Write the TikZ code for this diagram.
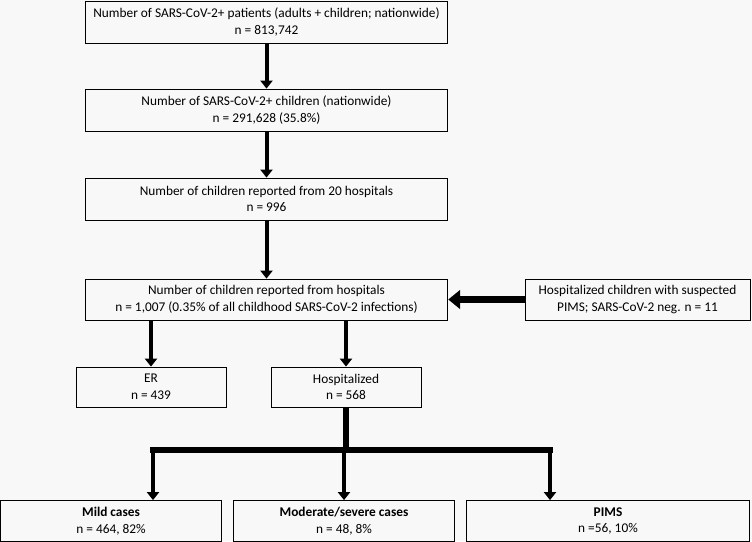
\documentclass[tikz,border=0pt]{standalone}
\usepackage{fontspec}
\setmainfont{Carlito}
\usetikzlibrary{arrows.meta}
\definecolor{paper}{RGB}{248,248,248}
\begin{document}
\begin{tikzpicture}[x=0.75pt,y=-0.75pt,
    box/.style={draw,line width=0.6pt,inner sep=1pt,align=center,font=\fontsize{10}{12.5}\selectfont},
    wide/.style={box,minimum width=272pt,minimum height=31.5pt},
    small/.style={box,minimum width=112.5pt,minimum height=30pt},
    result/.style={box,minimum width=165.75pt,minimum height=30.75pt},
    flow/.style={line width=3pt,-{Triangle[width=9pt,length=6pt]}},
    link/.style={line width=4pt}]
    \fill[paper] (0,0) rectangle (752,541);

    \node[wide] (all) at (266.5,22) {Number of SARS-CoV-2+ patients (adults + children; nationwide)\\n = 813,742};
    \node[wide] (kids) at (266.5,110) {Number of SARS-CoV-2+ children (nationwide)\\n = 291,628 (35.8\%)};
    \node[wide] (twenty) at (266.5,199) {Number of children reported from 20 hospitals\\n = 996};
    \node[wide,minimum height=30.75pt] (hosps) at (266.5,299.5) {Number of children reported from hospitals\\n = 1,007 (0.35\% of all childhood SARS-CoV-2 infections)};
    \node[box,minimum width=168.75pt,minimum height=30.75pt] (pimsneg) at (637.5,299.5) {Hospitalized children with suspected\\PIMS; SARS-CoV-2 neg. n = 11};

    \node[small] (er) at (151,387) {ER\\n = 439};
    \node[small] (hosp) at (346,387) {Hospitalized\\n = 568};

    \node[result] (mild) at (111,521) {\textbf{Mild cases}\\n = 464, 82\%};
    \node[result] (mod) at (344,521) {\textbf{Moderate/severe cases}\\n = 48, 8\%};
    \node[result,minimum width=212.25pt] (pims) at (608,521) {\textbf{PIMS}\\n =56, 10\%};

    \draw[flow] (all) -- (kids);
    \draw[flow] (kids) -- (twenty);
    \draw[flow] (twenty) -- (hosps);
    \draw[line width=5pt,-{Triangle[width=14pt,length=9pt]}] (pimsneg) -- (hosps);
    \draw[flow] (hosps.south -| er) -- (er);
    \draw[flow] (hosps.south -| hosp) -- (hosp);

    \coordinate (split) at (346,450);
    \coordinate (left) at (153,450);
    \coordinate (right) at (550,450);
    \draw[link] (hosp) -- (split);
    \draw[link,line cap=rect] (left) -- (right);
    \draw[flow] (left) -- (left |- mild.north);
    \draw[flow] (split -| mod) -- (mod);
    \draw[flow] (right) -- (right |- pims.north);
\end{tikzpicture}
\end{document}
